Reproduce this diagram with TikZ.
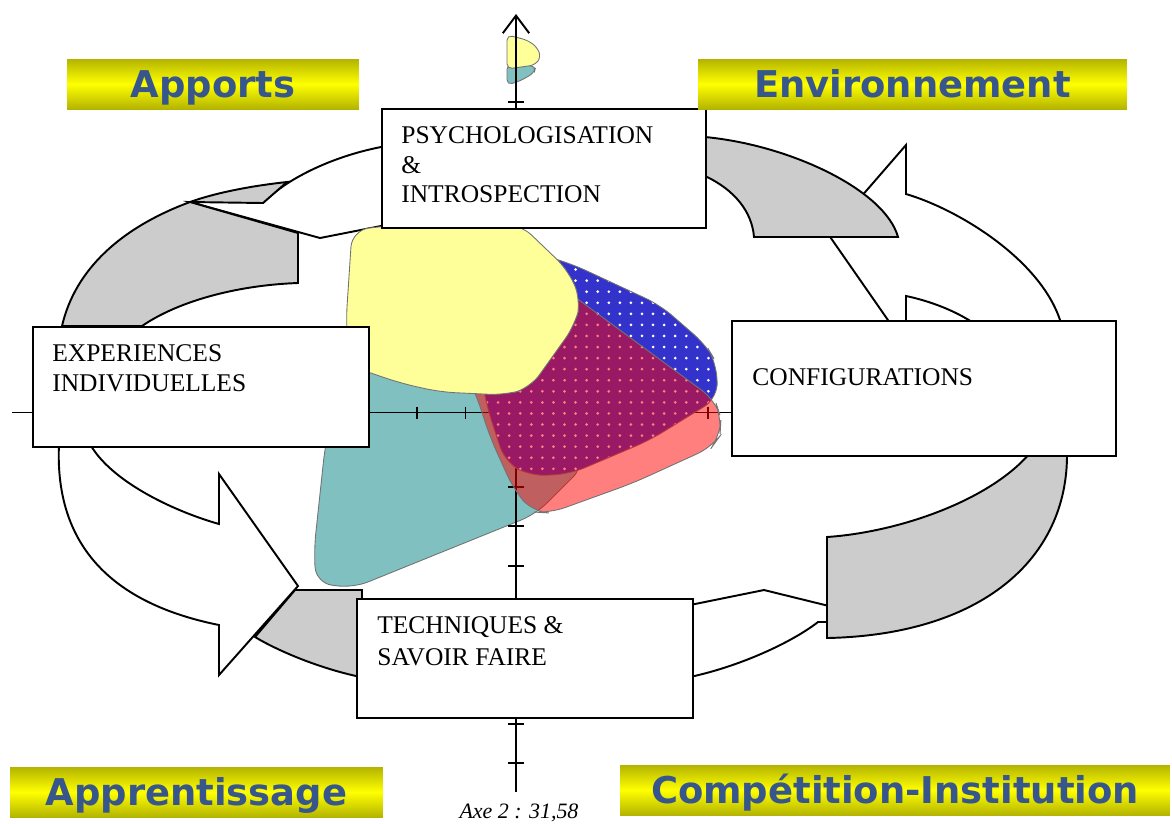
\documentclass[tikz,border=0pt]{standalone}
\usepackage{fontspec}
\setmainfont{Liberation Serif}
\newfontfamily\titrefont{DejaVu Sans}
\usetikzlibrary{arrows.meta, patterns.meta}

\definecolor{grisfleche}{RGB}{204,204,204}
\definecolor{jaunetache}{RGB}{255,255,153}
\definecolor{sarcelle}{RGB}{128,192,192}
\definecolor{bleutache}{RGB}{51,51,204}
\definecolor{bandeauolive}{RGB}{180,180,0}
\definecolor{titrebleu}{RGB}{54,86,140}

\begin{document}
\begin{tikzpicture}[
        x=0.02cm, y=-0.02cm,
        % --- STYLES ---
        cadre/.style={
                draw=black,
                line width=1pt,
                fill=white,
                inner sep=0pt,
                anchor=north west
            },
        texte/.style={
                anchor=north west,
                inner sep=0pt,
                align=left,
                font=\fontsize{14.5}{17}\selectfont
            },
        bandeau/.style={
                top color=bandeauolive,
                bottom color=bandeauolive,
                middle color=yellow,
                inner sep=0pt,
                minimum height=1cm,
                text height=19pt,
                text depth=4pt,
                text=titrebleu,
                font=\titrefont\bfseries\fontsize{21}{25}\selectfont
            },
        fleche/.style={line width=1.1pt},
        ombre/.style={fleche, fill=grisfleche},
        tache/.style={draw=black!55, line width=0.5pt, rounded corners=9pt},
        axe/.style={line width=1.1pt}
    ]

    \useasboundingbox (0,0) rectangle (1172,823);

    % 1. Les flèches du cycle
    % haut-gauche
    \draw[fleche] (263,203) .. controls (285,180) and (330,157) .. (381,147);
    \draw[fleche] (190,202) -- (320,238) -- (381,226);
    \filldraw[ombre] (287,182) .. controls (250,186) and (215,193) .. (190,202)
    .. controls (120,228) and (75,270) .. (62,326) -- (142,326)
    .. controls (180,300) and (240,285) .. (298,283) -- (298,233) -- (190,202)
    -- (263,203) -- cycle;

    % haut-droite
    \draw[fleche] (860,198) -- (906,145) -- (906,194)
    .. controls (960,210) and (1040,260) .. (1060,320);
    \draw[fleche] (826,231) -- (890,323);
    \draw[fleche] (906,322) -- (906,296) .. controls (925,300) and (950,308) .. (972,322);
    \filldraw[ombre] (705,137) .. controls (790,145) and (885,190) .. (898,237)
    -- (754,237) .. controls (752,212) and (735,190) .. (705,176) -- cycle;

    % bas-droite
    \draw[fleche] (690,605) -- (764,590) -- (829,606);
    \draw[fleche] (829,622) -- (818,622) .. controls (795,640) and (745,665) .. (690,677);
    \filldraw[ombre] (1030,453) -- (1067,453) .. controls (1068,560) and (980,635) .. (827,638)
    -- (827,537) .. controls (900,532) and (990,500) .. (1030,453) -- cycle;

    % bas-gauche
    \filldraw[ombre] (295,590) -- (362,590) -- (362,680) -- (356,676)
    .. controls (320,668) and (280,652) .. (255,637) -- cycle;
    \draw[fleche] (59,444) .. controls (55,530) and (95,600) .. (219,625)
    -- (219,675) -- (298,586) -- (219,474) -- (219,524)
    .. controls (170,510) and (110,480) .. (90,444);

    % 2. Petites taches en haut
    \filldraw[tache, fill=sarcelle, rounded corners=3pt]
    (507,64) -- (536,66) -- (534,73) -- (520,81) -- (507,85) -- cycle;
    \filldraw[tache, fill=jaunetache, rounded corners=3pt]
    (507,35) -- (527,40) -- (537,47) -- (541,57) -- (535,65) -- (507,69) -- cycle;

    % 3. Tache sarcelle
    \filldraw[tache, fill=sarcelle]
    (340,360) -- (470,372) -- (585,465) -- (536,514) -- (353,588)
    -- (316,583) -- (314,550) -- (325,447) -- (335,400) -- cycle;

    % 4. Axes
    \draw[axe] (12,412.5) -- (731,412.5);
    \foreach \x in {368.5,417,...,709}
    \draw[axe] (\x,406.5) -- (\x,418.5);
    \draw[axe, -{Straight Barb[length=10pt, width=15pt]}] (516,792) -- (516,14);
    \foreach \y in {447.2,486.7,...,764}
    \draw[axe] (508,\y) -- (524,\y);
    \draw[axe] (508,102) -- (524,102);

    % 5. Taches bleue, rouge et jaune
    \filldraw[tache, preaction={fill=bleutache},
        pattern={Dots[distance=6.3pt, radius=0.85pt]}, pattern color=white]
    (525,250) -- (572,264) -- (660,305) -- (706,345) -- (716,362) -- (718,398)
    -- (650,440) -- (570,474) -- (530,476) -- (505,462) -- (487,407) -- (482,380) -- cycle;
    \filldraw[tache, fill=red, fill opacity=0.5]
    (465,370) -- (545,275) -- (715,400) -- (721,418) -- (720,436) -- (712,447)
    -- (633,483) -- (550,513) -- (533,512) -- (514,490) -- (490,437) -- (477,397) -- cycle;
    \filldraw[tache, fill=jaunetache]
    (352,231) -- (381,226) -- (520,224) -- (568,270) -- (581,300) -- (575,325)
    -- (530,388) -- (505,395) -- (440,392) -- (400,383) -- (368,372) -- (350,366)
    -- (346,322) -- cycle;

    % 6. Cadres et textes
    \node[cadre, minimum width=6.48cm, minimum height=2.38cm] (psycho) at (381,108) {};
    \node[cadre, minimum width=6.72cm, minimum height=2.4cm] (experiences) at (32,326) {};
    \node[cadre, minimum width=7.68cm, minimum height=2.7cm] (configurations) at (731,320) {};
    \node[cadre, minimum width=6.72cm, minimum height=2.38cm] (techniques) at (356,598) {};

    \node[texte] (t-psycho) at (401,126) {PSYCHOLOGISATION\\ \&\\ INTROSPECTION};
    \node[texte] (t-experiences) at (52,344) {EXPERIENCES\\ INDIVIDUELLES};
    \node[texte] (t-configurations) at (752,368) {CONFIGURATIONS};
    \node[texte] (t-techniques) at (377,616) {TECHNIQUES \&\\[1.2pt] SAVOIR FAIRE};

    % 7. Bandeaux
    \node[bandeau, minimum width=5.84cm] (apports) at (213,84) {Apports};
    \node[bandeau, minimum width=8.58cm] (environnement) at (912.5,84) {Environnement};
    \node[bandeau, minimum width=7.46cm] (apprentissage) at (196.5,792) {Apprentissage};
    \node[bandeau, minimum width=11cm] (competition) at (895,790) {Compétition-Institution};

    % Axe 2
    \node[anchor=base, inner sep=0pt, font=\fontsize{12.5}{15}\selectfont\itshape]
    (axe2) at (519,818) {Axe 2 : 31,58};

\end{tikzpicture}
\end{document}
